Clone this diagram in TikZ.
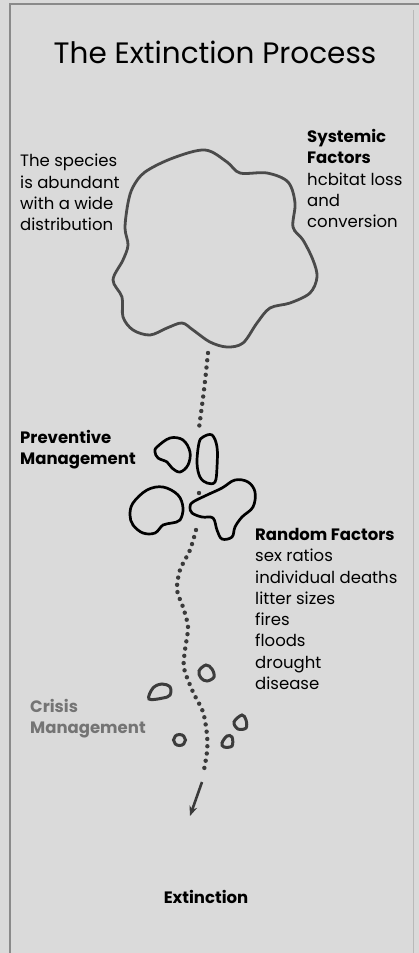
\documentclass[tikz,border=0pt]{standalone}
\usepackage{fontspec}
\setmainfont{Poppins}
\usetikzlibrary{arrows.meta}
\definecolor{bg}{HTML}{DADADA}
\definecolor{framec}{HTML}{8A8A8A}
\definecolor{bigc}{HTML}{4A4A4A}
\definecolor{smallc}{HTML}{3C3C3C}
\definecolor{dotc}{HTML}{3A3A3A}
\definecolor{crisisc}{HTML}{747474}
\begin{document}
\begin{tikzpicture}[x=1pt,y=-1pt,
  lbl/.style={anchor=north west,inner sep=0pt,align=left,font=\fontsize{16.5}{21.3}\selectfont},
  lblb/.style={lbl,font=\fontsize{16.5}{21.3}\selectfont\bfseries},
  bigblob/.style={draw=bigc,line width=2.8pt},
  midblob/.style={draw=black,line width=2.7pt},
  smallblob/.style={draw=smallc,line width=3pt},
  dotline/.style={draw=dotc,line width=4.4pt,line cap=round,dash pattern=on 0pt off 7.3pt},
  arrowline/.style={draw=dotc,line width=2.6pt,-{Stealth[length=10pt,width=8pt]}}]
\useasboundingbox (0,0) rectangle (419,953);
\fill[bg] (0,0) rectangle (419,953);
\draw[framec,line width=1.2pt] (10,953) -- (10,4) -- (419,4);
\draw[framec!60,line width=1pt] (413,10) -- (413,953);

% title
\node[inner sep=0pt,font=\fontsize{29.5}{32}\selectfont] (title) at (215,52) {The Extinction Process};

% big blob
\draw[bigblob] plot[smooth cycle,tension=0.55] coordinates {
 (205,150) (227,162) (240,173) (267,173) (288,182) (295,203) (293,227) (303,240)
 (313,260) (317,277) (310,293) (290,303) (270,308) (257,323) (243,343) (227,347)
 (210,342) (193,330) (182,323) (167,328) (150,335) (133,330) (123,317) (122,297)
 (113,280) (123,260) (128,245) (125,228) (128,203) (133,187) (145,172) (173,158)};

% middle blobs
\draw[midblob] plot[smooth cycle,tension=0.6] coordinates {
 (157,447) (170,438) (183,440) (190,452) (188,465) (180,472) (172,468) (167,462) (158,458) (155,452)};
\draw[midblob] plot[smooth cycle,tension=0.6] coordinates {
 (203,437) (212,435) (217,447) (217,467) (215,482) (207,483) (200,477) (197,463) (199,443)};
\draw[midblob] plot[smooth cycle,tension=0.6] coordinates {
 (133,503) (147,490) (163,487) (178,495) (183,508) (180,520) (172,523) (163,525) (155,533) (143,533) (133,525) (130,515)};
\draw[midblob] plot[smooth cycle,tension=0.6] coordinates {
 (193,502) (207,495) (222,488) (235,480) (248,482) (255,492) (253,507) (242,517) (235,527) (232,537)
 (222,539) (217,530) (213,518) (202,517) (192,513) (190,507)};

% small blobs
\draw[smallblob] plot[smooth cycle,tension=0.6] coordinates {
 (199,671) (206,665) (212,669) (214,677) (207,681) (201,678)};
\draw[smallblob] plot[smooth cycle,tension=0.6] coordinates {
 (149,699) (153,688) (162,684) (170,687) (170,695) (163,698)};
\draw[smallblob] plot[smooth cycle,tension=0.6] coordinates {
 (234,722) (242,715) (246,720) (246,728) (238,729)};
\draw[smallblob] (179.5,740) circle[x radius=6pt,y radius=5.5pt];
\draw[smallblob] plot[smooth cycle,tension=0.6] coordinates {
 (222,743) (227,736) (232,737) (232,746) (224,747)};

% dotted path
\coordinate (d1s) at (208,353);
\coordinate (d1e) at (199,428);
\coordinate (dmid) at (199,493);
\coordinate (d2s) at (196,530);
\coordinate (arrs) at (202,782);
\coordinate (arre) at (190,816);
\draw[dotline] plot[smooth] coordinates {(d1s) (204,390) (d1e)};
\fill[dotc] (dmid) circle[radius=2.2pt];
\draw[dotline] plot[smooth] coordinates {(d2s) (190,550) (180,570) (177,590) (183,607) (188,627)
 (185,650) (184,668) (193,692) (203,712) (207,735) (207,752) (203,775)};
\draw[arrowline] (arrs) -- (arre);

% labels
\node[lbl] (species) at (20,154) {The species\\is abundant\\with a wide\\distribution};
\node[lbl] (systemic) at (307,129) {\textbf{Systemic}\\\textbf{Factors}\\hcbitat loss\\and\\conversion};
\node[lblb] (preventive) at (20,430) {Preventive\\Management};
\node[lbl] (random) at (255,528) {\textbf{Random Factors}\\sex ratios\\individual deaths\\litter sizes\\fires\\floods\\drought\\disease};
\node[lblb,text=crisisc] (crisis) at (30,699) {Crisis\\Management};
\node[inner sep=0pt,font=\fontsize{16.5}{18}\selectfont\bfseries] (extinction) at (206,897) {Extinction};
\end{tikzpicture}
\end{document}
